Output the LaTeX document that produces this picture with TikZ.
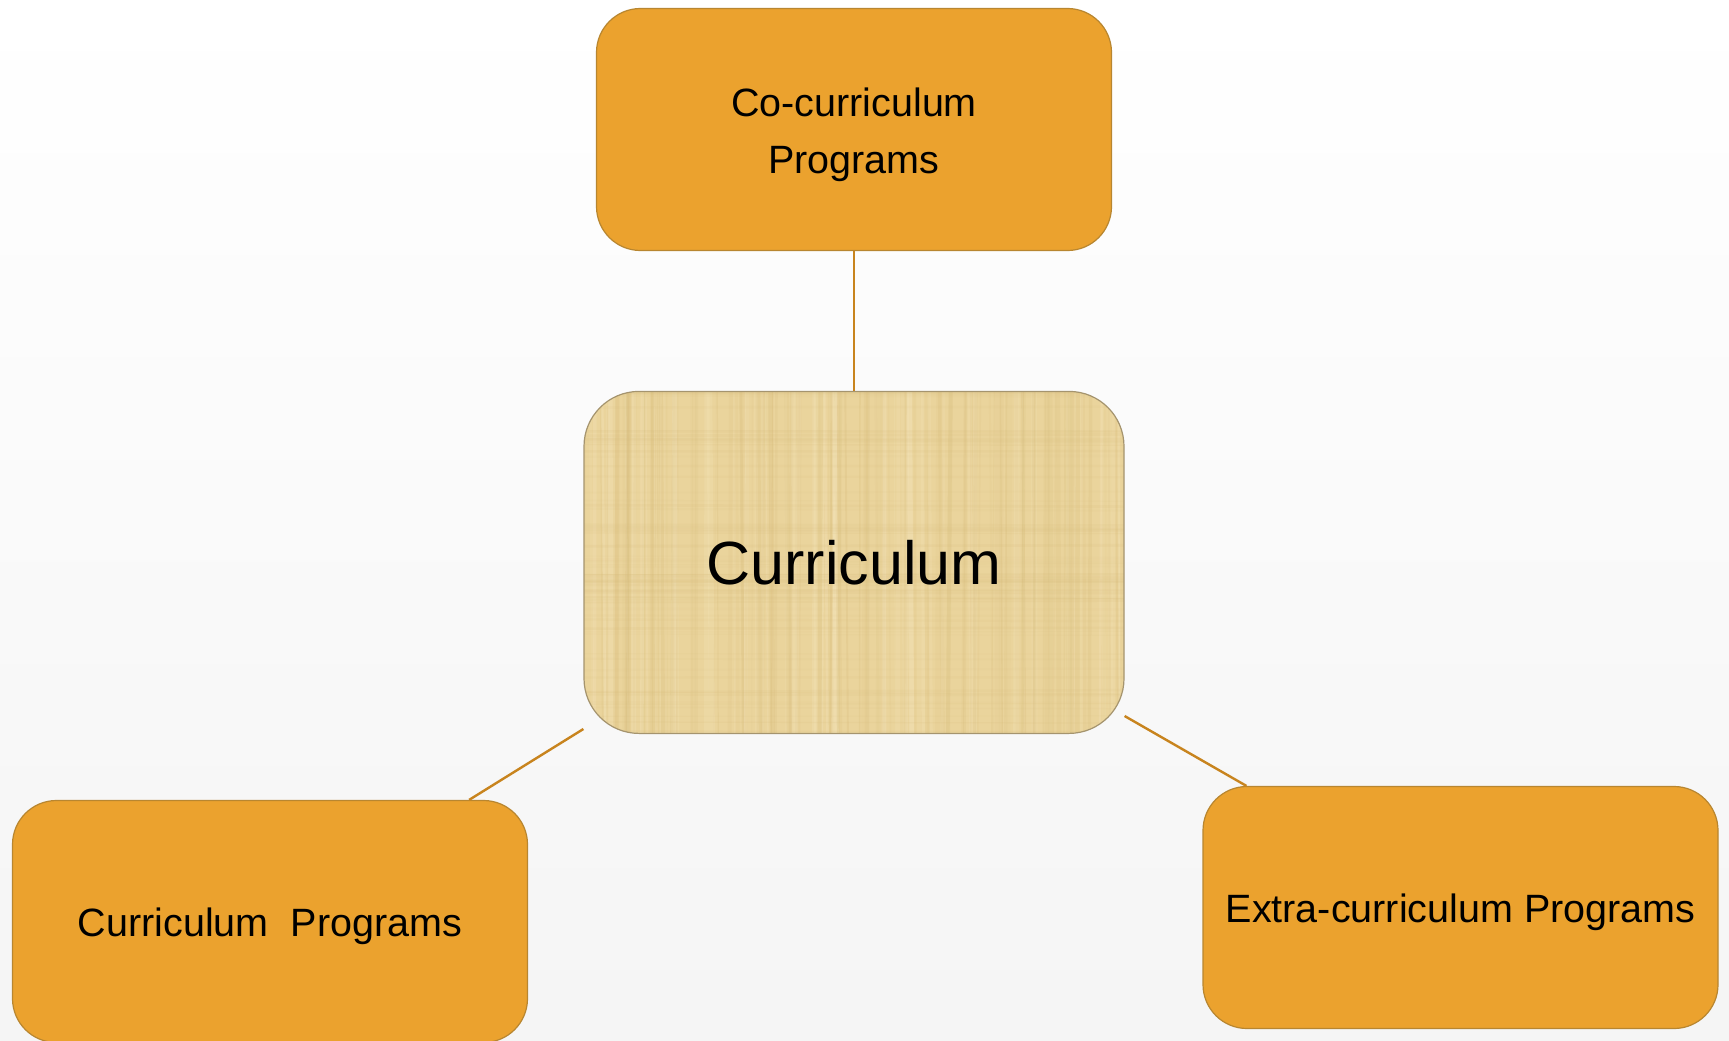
\documentclass[tikz,border=0pt]{standalone}
\usepackage{fontspec}
\setmainfont{Liberation Sans}
\usetikzlibrary{calc}
\definecolor{boxorange}{RGB}{235,162,46}
\definecolor{boxedge}{RGB}{184,134,48}
\definecolor{linkcol}{RGB}{200,132,30}
\definecolor{papyrus}{RGB}{234,212,156}
\definecolor{papyrusdark}{RGB}{214,186,120}
\definecolor{papyruslight}{RGB}{244,228,186}
\definecolor{papyrusedge}{RGB}{165,148,110}
\newcommand{\lowered}[1]{\raisebox{-4pt}[\height][\depth]{\begin{tabular}{@{}c@{}}#1\end{tabular}}}
\tikzset{
  progbox/.style={draw=boxedge, line width=1.2pt, fill=boxorange, rounded corners=44pt,
    minimum width=515pt, minimum height=242pt, inner sep=0pt, align=center,
    font=\fontsize{39.5pt}{57pt}\selectfont},
  corebox/.style={draw=papyrusedge, line width=1.2pt, rounded corners=55pt,
    minimum width=540pt, minimum height=342pt, inner sep=0pt, align=center,
    font=\fontsize{61pt}{70pt}\selectfont},
  link/.style={draw=linkcol, line width=2.4pt}
}
\begin{document}
\begin{tikzpicture}[x=1pt,y=-1pt]
  \shade[top color=white, bottom color=black!4] (0,0) rectangle (1729,1041);
  \useasboundingbox (0,0) rectangle (1729,1041);

  % centre box with papyrus-like texture
  \fill[papyrus, rounded corners=55pt] (584,391.5) rectangle (1124,733.3);
  \begin{scope}
    \clip[rounded corners=55pt] (584,391.5) rectangle (1124,733.3);
    \pgfmathsetseed{7}
    \foreach \i in {0,...,110}{
      \pgfmathsetmacro{\xx}{584+rnd*540}
      \pgfmathsetmacro{\op}{0.06+0.18*rnd}
      \pgfmathsetmacro{\ww}{1+4*rnd}
      \draw[papyrusdark, opacity=\op, line width=\ww pt] (\xx,391.5) -- (\xx+rnd*6-3,733.3);
    }
    \foreach \i in {0,...,60}{
      \pgfmathsetmacro{\xx}{584+rnd*540}
      \pgfmathsetmacro{\op}{0.12+0.25*rnd}
      \pgfmathsetmacro{\ww}{1+5*rnd}
      \draw[papyruslight, opacity=\op, line width=\ww pt] (\xx,391.5) -- (\xx+rnd*6-3,733.3);
    }
    \foreach \i in {0,...,70}{
      \pgfmathsetmacro{\yy}{391.5+rnd*342}
      \pgfmathsetmacro{\op}{0.04+0.10*rnd}
      \pgfmathsetmacro{\ww}{0.8+2*rnd}
      \draw[papyrusdark, opacity=\op, line width=\ww pt] (584,\yy) -- (1124,\yy+rnd*4-2);
    }
  \end{scope}
  \node[corebox] (ctr) at (854,562.4) {Curriculum};

  \node[progbox] (top) at (854,129.5) {\lowered{Co-curriculum\\Programs}};
  \node[progbox] (bl) at (270,921.5) {\lowered{Curriculum\ \ Programs}};
  \node[progbox] (br) at (1460.5,907.5) {\lowered{Extra-curriculum Programs}};

  \draw[link] (top.south) -- (ctr.north);
  \draw[link] ($(ctr.south west)+(0,-5)$) -- ($(bl.north east)+(-59,0)$);
  \draw[link] ($(ctr.south east)+(0,-18)$) -- ($(br.north west)+(44,0)$);
\end{tikzpicture}
\end{document}
